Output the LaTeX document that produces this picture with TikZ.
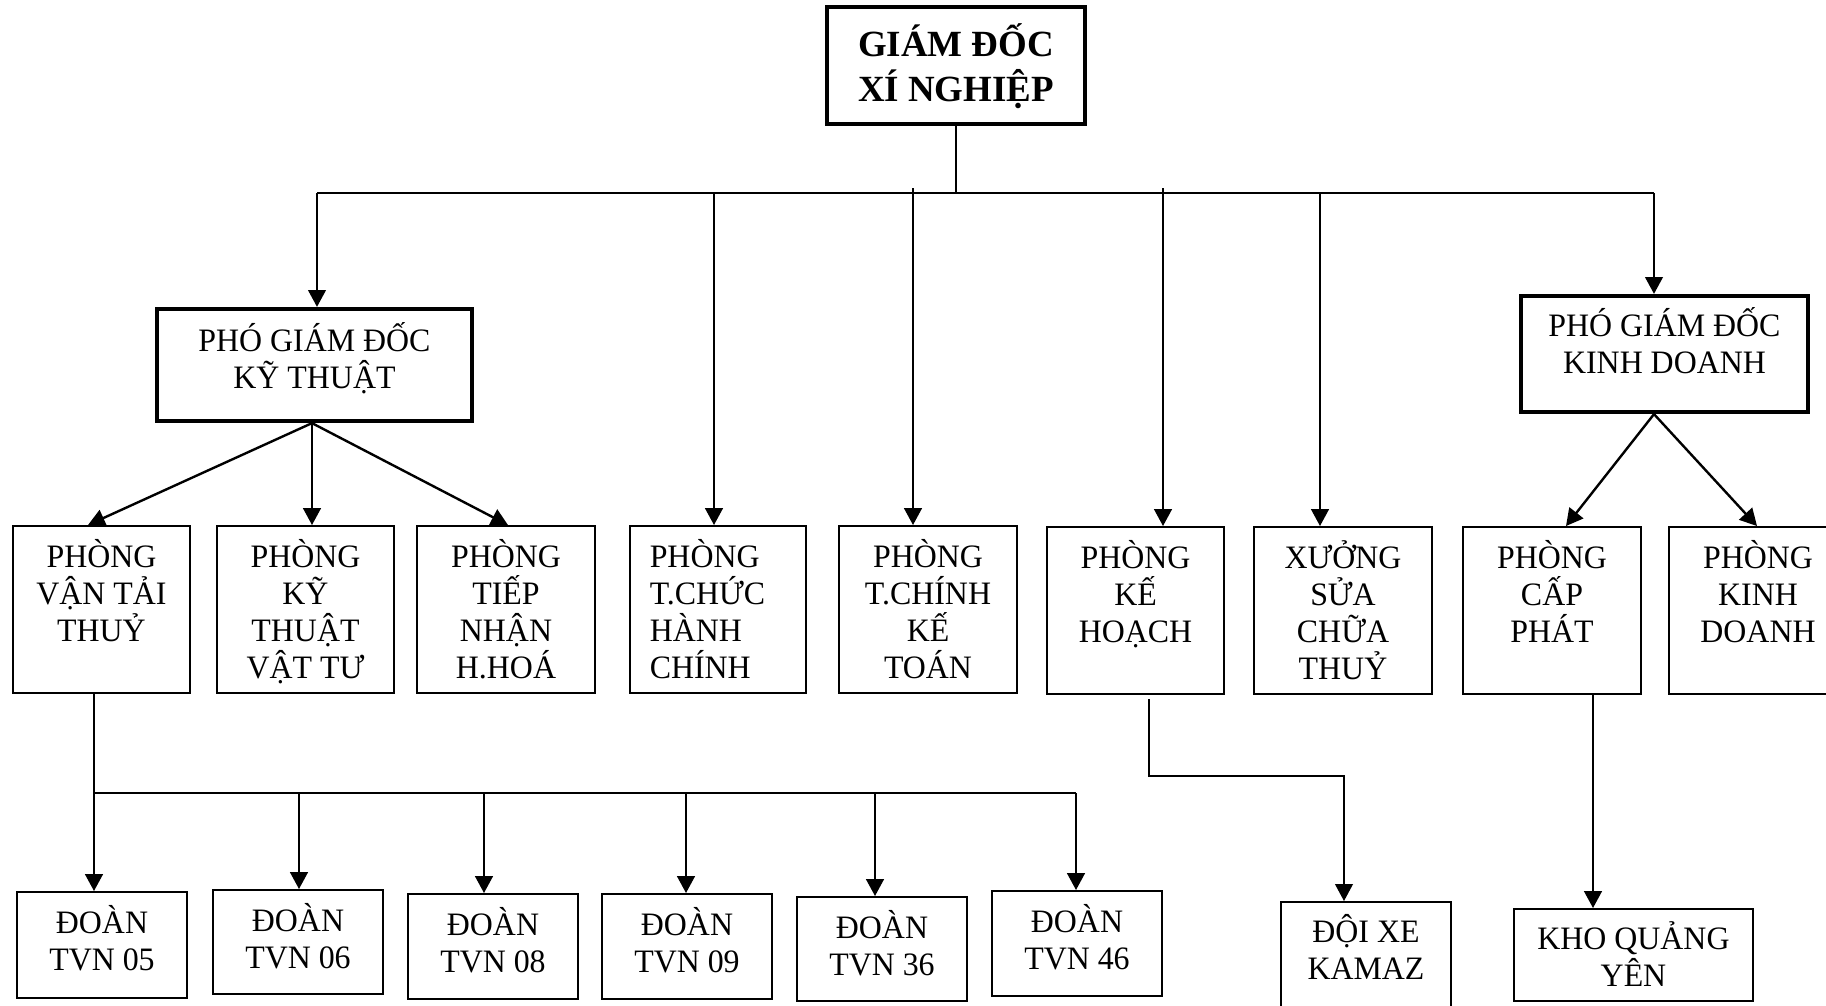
\documentclass[tikz,border=0pt]{standalone}
\usepackage{fontspec}
\setmainfont{Liberation Serif}
\newfontfamily\boxserif[FakeStretch=0.975]{Liberation Serif}
\usetikzlibrary{arrows.meta,fit}
\begin{document}
\begin{tikzpicture}[x=0.01cm,y=-0.01cm,
  box/.style={draw,line width=0.55pt,inner sep=0pt},
  bigbox/.style={draw,line width=1.2pt,inner sep=0pt},
  txt/.style={inner sep=0pt,align=center,font=\boxserif\fontsize{9.3}{10.5}\selectfont},
  ttl/.style={inner sep=0pt,align=center,font=\fontsize{10.5}{12.8}\selectfont\bfseries},
  link/.style={line width=0.68pt},
  arr/.style={link,-{Triangle[length=4.8pt,width=5pt]}},
]
\fill[white] (0,0) rectangle (1826,1005);
\clip (0,0) rectangle (1826,1005);

% ---- director
\node[bigbox,fit={(827,7) (1085,124)}] (gd) {};
\node[ttl,anchor=north] (gd-t) at ([yshift=-2.9pt]gd.north) {\rule{0pt}{11.5pt}GIÁM ĐỐC\\XÍ NGHIỆP};

% ---- deputies
\node[bigbox,fit={(157,309) (472,421)}] (pgdkt) {};
\node[txt,anchor=north] (pgdkt-t) at ([yshift=-2.4pt]pgdkt.north) {\rule{0pt}{10pt}PHÓ GIÁM ĐỐC\\KỸ THUẬT};
\node[bigbox,fit={(1521,296) (1808,412)}] (pgdkd) {};
\node[txt,anchor=north] (pgdkd-t) at ([yshift=-2pt]pgdkd.north) {\rule{0pt}{10pt}PHÓ GIÁM ĐỐC\\KINH DOANH};

% ---- departments
\node[box,fit={(13,526) (190,693)}] (vt) {};
\node[txt,anchor=north] (vt-t) at ([yshift=-2pt]vt.north) {\rule{0pt}{10pt}PHÒNG\\VẬN TẢI\\THUỶ};
\node[box,fit={(217,526) (394,693)}] (ktvt) {};
\node[txt,anchor=north] (ktvt-t) at ([yshift=-2pt]ktvt.north) {\rule{0pt}{10pt}PHÒNG\\KỸ\\THUẬT\\VẬT TƯ};
\node[box,fit={(417,526) (595,693)}] (tn) {};
\node[txt,anchor=north] (tn-t) at ([yshift=-2pt]tn.north) {\rule{0pt}{10pt}PHÒNG\\TIẾP\\NHẬN\\H.HOÁ};
\node[box,fit={(630,526) (806,693)}] (tc) {};
\node[txt,align=left,anchor=north west] (tc-t) at ([xshift=0.2cm,yshift=-2pt]tc.north west) {\rule{0pt}{10pt}PHÒNG\\T.CHỨC\\HÀNH\\CHÍNH};
\node[box,fit={(839,526) (1017,693)}] (tck) {};
\node[txt,anchor=north] (tck-t) at ([yshift=-2pt]tck.north) {\rule{0pt}{10pt}PHÒNG\\T.CHÍNH\\KẾ\\TOÁN};
\node[box,fit={(1047,527) (1224,694)}] (kh) {};
\node[txt,anchor=north] (kh-t) at ([yshift=-2pt]kh.north) {\rule{0pt}{10pt}PHÒNG\\KẾ\\HOẠCH};
\node[box,fit={(1254,527) (1432,694)}] (xsc) {};
\node[txt,anchor=north] (xsc-t) at ([yshift=-2pt]xsc.north) {\rule{0pt}{10pt}XƯỞNG\\SỬA\\CHỮA\\THUỶ};
\node[box,fit={(1463,527) (1641,694)}] (cp) {};
\node[txt,anchor=north] (cp-t) at ([yshift=-2pt]cp.north) {\rule{0pt}{10pt}PHÒNG\\CẤP\\PHÁT};
\node[box,fit={(1669,527) (1847,694)}] (kd) {};
\node[txt,anchor=north] (kd-t) at ([yshift=-2pt]kd.north) {\rule{0pt}{10pt}PHÒNG\\KINH\\DOANH};

% ---- fleets and units
\node[box,fit={(17,892) (187,998)}] (d05) {};
\node[txt,anchor=north] (d05-t) at ([yshift=-2pt]d05.north) {\rule{0pt}{10pt}ĐOÀN\\TVN 05};
\node[box,fit={(213,890) (383,994)}] (d06) {};
\node[txt,anchor=north] (d06-t) at ([yshift=-2pt]d06.north) {\rule{0pt}{10pt}ĐOÀN\\TVN 06};
\node[box,fit={(408,894) (578,999)}] (d08) {};
\node[txt,anchor=north] (d08-t) at ([yshift=-2pt]d08.north) {\rule{0pt}{10pt}ĐOÀN\\TVN 08};
\node[box,fit={(602,894) (772,999)}] (d09) {};
\node[txt,anchor=north] (d09-t) at ([yshift=-2pt]d09.north) {\rule{0pt}{10pt}ĐOÀN\\TVN 09};
\node[box,fit={(797,897) (967,1001)}] (d36) {};
\node[txt,anchor=north] (d36-t) at ([yshift=-2pt]d36.north) {\rule{0pt}{10pt}ĐOÀN\\TVN 36};
\node[box,fit={(992,891) (1162,996)}] (d46) {};
\node[txt,anchor=north] (d46-t) at ([yshift=-2pt]d46.north) {\rule{0pt}{10pt}ĐOÀN\\TVN 46};
\node[box,fit={(1281,902) (1451,1015)}] (dx) {};
\node[txt,anchor=north] (dx-t) at ([yshift=-1.7pt]dx.north) {\rule{0pt}{10pt}ĐỘI XE\\KAMAZ};
\node[box,fit={(1514,909) (1753,1001)}] (kho) {};
\node[txt,anchor=north] (kho-t) at ([yshift=-1.7pt]kho.north) {\rule{0pt}{10pt}KHO QUẢNG\\YÊN};

% ---- main bus
\coordinate (b1) at (317,193);
\coordinate (b2) at (714,193);
\coordinate (b3) at (913,188);
\coordinate (b4) at (1163,188);
\coordinate (b5) at (1320,193);
\coordinate (b6) at (1654,193);
\draw[link] (gd.south) -- (gd.south |- b1);
\draw[link] (b1) -- (b6);
\draw[arr] (b1) -- (b1 |- pgdkt.north);
\draw[arr] (b2) -- (b2 |- tc.north);
\draw[arr] (b3) -- (b3 |- tck.north);
\draw[arr] (b4) -- (b4 |- kh.north);
\draw[arr] (b5) -- (b5 |- xsc.north);
\draw[arr] (b6) -- (b6 |- pgdkd.north);

% ---- technical deputy fan
\coordinate (kthub) at (pgdkt.south -| 312,0);
\draw[arr] (kthub) -- (vt.north -| 88,0);
\draw[arr] (kthub) -- (ktvt.north -| 312,0);
\draw[arr] (kthub) -- (tn.north -| 508,0);

% ---- business deputy fan
\coordinate (kdhub) at (pgdkd.south -| 1654,0);
\draw[arr] (kdhub) -- (cp.north -| 1566,0);
\draw[arr] (kdhub) -- (kd.north -| 1757,0);

% ---- fleet bus
\coordinate (s0) at (94,793);
\coordinate (s1) at (299,793);
\coordinate (s2) at (484,793);
\coordinate (s3) at (686,793);
\coordinate (s4) at (875,793);
\coordinate (s5) at (1076,793);
\draw[link] (vt.south -| s0) -- (s0) -- (s5);
\draw[arr] (s0) -- (s0 |- d05.north);
\draw[arr] (s1) -- (s1 |- d06.north);
\draw[arr] (s2) -- (s2 |- d08.north);
\draw[arr] (s3) -- (s3 |- d09.north);
\draw[arr] (s4) -- (s4 |- d36.north);
\draw[arr] (s5) -- (s5 |- d46.north);

% ---- planning -> trucks, supply -> depot
\coordinate (k1) at (1149,699);
\coordinate (k2) at (1149,776);
\coordinate (k3) at (1344,776);
\draw[arr,line width=0.55pt] (k1) -- (k2) -- (k3) -- (k3 |- dx.north);
\coordinate (c1) at (cp.south -| 1593,0);
\draw[arr] (c1) -- (c1 |- kho.north);
\end{tikzpicture}
\end{document}
